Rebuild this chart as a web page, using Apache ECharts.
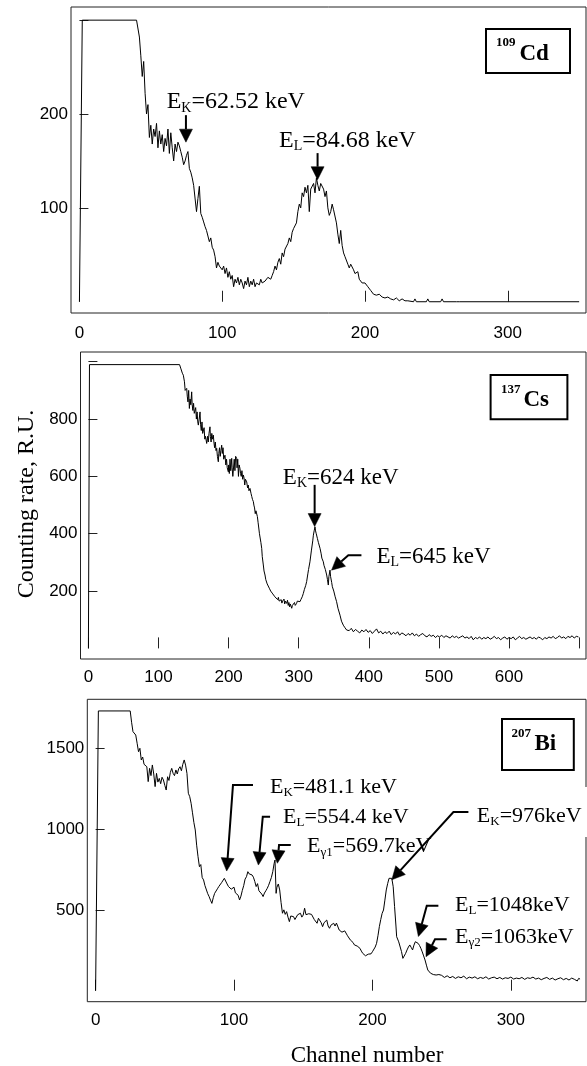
<!DOCTYPE html>
<html>
<head>
<meta charset="utf-8">
<script src="https://cdn.jsdelivr.net/npm/echarts@6/dist/echarts.min.js"></script>
<style>
  html, body { margin: 0; padding: 0; background: #fff; }
  #chart { width: 587px; height: 1066px; }
</style>
</head>
<body>
<div id="chart"></div>
<script>
// ---- spectra: [channel, counting rate] ----
const cd109 = [
  [0,0],[1,0],[2,300],[40,300],[41,298],[42,282],[43,262],[44,240],[45,256],[46,222],[47,200],[48,210],[49,175],[50,188],
  [51,168],[52,184],[53,176],[54,190],[55,164],[56,182],[57,168],[58,178],[59,160],[60,174],[61,166],[62,184],[63,158],
  [64,180],[65,164],[66,150],[67,168],[68,160],[69,170],[70,166],[71,160],[72,154],[73,146],[74,150],[75,156],[76,160],
  [77,142],[78,138],[79,132],[80,124],[81,122],[82,96],[83,110],[84,123],[85,94],[86,90],[87,85],[88,80],[89,76],[90,70],
  [91,64],[92,68],[93,58],[94,55],[95,48],[96,36],[97,42],[98,38],[99,40],[100,34],[101,38],[102,30],[103,36],[104,26],
  [105,32],[106,24],[107,28],[108,16],[109,24],[110,20],[111,26],[112,18],[113,24],[114,20],[115,14],[116,22],[117,18],
  [118,26],[119,16],[120,22],[121,18],[122,24],[123,16],[124,20],[125,22],[126,18],[127,24],[128,20],[129,18],[130,22],
  [131,21],[132,26],[133,28],[134,24],[135,28],[136,32],[137,38],[138,34],[139,42],[140,46],[141,40],[142,52],[143,48],
  [144,56],[145,54],[146,62],[147,68],[148,64],[149,74],[150,78],[151,76],[152,84],[153,96],[154,104],[155,100],[156,116],
  [157,112],[158,122],[159,116],[160,124],[161,96],[162,120],[163,118],[164,126],[165,116],[166,132],[167,124],[168,118],
  [169,126],[170,128],[171,120],[172,112],[173,118],[174,100],[175,92],[176,96],[177,104],[178,98],[179,100],[180,84],
  [181,72],[182,62],[183,76],[184,60],[185,52],[186,48],[187,46],[188,40],[189,36],[190,40],[191,38],[192,34],[193,30],
  [194,28],[195,32],[196,24],[197,26],[198,20],[199,22],[200,20],[202,16],[204,12],[206,8],[208,7],[210,8],[212,5],
  [214,4],[216,5],[218,3],[220,2],[222,4],[224,1],[226,3],[228,1],[230,1],[234,0],[235,3],[236,0],[243,0],[244,3],
  [245,0],[253,0],[254,3],[255,0],[264,0],[265,2],[266,0],[350,0]
];

const cs137 = [
  [0,0],[1,0],[1.5,990],[130,990],[132,975],[134,960],[135.4,953],[137,930],[138,900],[140.2,907],[141,880],[142,860],
  [143,900],[144,837],[145,870],[146,850],[147.3,895],[148,850],[149,830],[150,855],[151,820],[152,814],[153,840],
  [154,800],[155,825],[156,790],[156.8,779],[158,800],[159.2,825],[160,780],[161,760],[162,790],[163,750],[164,744],
  [165,770],[166,730],[167,740],[168.7,715],[170,740],[171,720],[172,750],[173.4,773],[174,740],[175,720],[176,750],
  [177,730],[178.2,744],[179,720],[180,700],[181,720],[182,690],[183,698],[184,670],[185.3,651],[186,680],[187,700],
  [188,670],[189,690],[190.1,709],[191,680],[192,700],[193,660],[194.8,674],[196,640],[197,660],[198,630],[199.6,616],
  [200,640],[201,610],[202,660],[203,620],[204.4,663],[205,630],[206,600],[206.7,605],[208,660],[209,620],[210,670],
  [211.5,663],[212,630],[213,660],[214,600],[215,640],[216.2,628],[217,610],[218,600],[219,620],[220,590],[221,605],
  [222,595],[223,570],[224,590],[225.8,581],[227,560],[228,570],[229,550],[230.5,558],[232,540],[233,530],[234,520],
  [235.3,512],[236,500],[237,490],[238,470],[239,480],[240,477],[241,460],[242,440],[243,420],[244,400],[245,395],
  [246,370],[247.2,349],[248,320],[249.5,291],[250.5,270],[251.9,256],[253,240],[254,235],[255,225],[256.7,221],[258,210],
  [259,205],[260,200],[261.4,198],[263,190],[264,185],[266,180],[268.5,175],[270,170],[271,178],[272,165],[273.3,163],
  [275,170],[276,158],[277,165],[278,160],[279,172],[280,155],[281,165],[282.8,157],[284,168],[285,150],[286,160],
  [287,145],[288,155],[290,140],[291,150],[292,145],[294,160],[295,150],[297,157],[298,165],[300,160],[301.8,163],
  [303,170],[305,180],[306.6,192],[308,205],[310,220],[311.3,233],[313,260],[314,275],[316,302],[318,340],[320,375],
  [320.9,395],[322,410],[323.2,424],[324,410],[325,400],[326.6,384],[328,370],[330.4,349],[332,330],[333,315],[335.1,302],
  [336,290],[338,275],[339.9,256],[341,240],[342.2,221],[343,250],[344.6,273],[345.5,250],[347,230],[348,215],[349.4,209],
  [350,200],[352,180],[354,163],[356,140],[358.9,116],[361,95],[363.6,81],[366,72],[368.4,64],[370,66],
  [372,62],[375,70],[378,58],[381,66],[384,60],[387,54],[390,64],[393,58],[396,66],[399,56],[402,62],[405,52],[408,60],
  [411,68],[414,54],[417,60],[420,50],[423,58],[426,52],[429,60],[432,48],[435,56],[438,50],[441,58],[444,46],[447,54],
  [450,50],[453,44],[456,52],[459,46],[462,54],[465,44],[468,50],[471,42],[474,48],[477,52],[480,44],[483,40],[486,48],
  [489,42],[492,46],[495,38],[498,44],[501,40],[504,46],[507,38],[510,44],[513,40],[516,36],[519,44],[522,38],[525,42],
  [528,36],[531,40],[534,44],[537,36],[540,40],[543,34],[546,42],[549,30],[552,38],[555,34],[558,40],[561,32],[564,38],
  [567,34],[570,40],[573,32],[576,36],[579,42],[582,34],[585,38],[588,30],[591,36],[594,40],[597,32],[600,38],[603,34],
  [606,40],[609,30],[612,36],[615,42],[618,34],[621,38],[624,32],[627,36],[630,40],[633,34],[636,38],[639,32],[642,40],
  [645,36],[648,30],[651,38],[654,34],[657,40],[660,36],[663,42],[666,34],[669,38],[672,44],[675,36],[678,40],[681,34],
  [684,42],[687,38],[690,44],[693,36],[696,42],[698,48],[699,40]
];

const bi207 = [
  [0,0],[1,0],[2,1730],[25,1730],[26,1660],[27,1602],[28,1598],[29,1581],[30,1530],[31,1478],[32,1499],[33,1427],
  [34,1445],[35,1400],[36,1392],[37,1385],[38,1293],[39,1375],[40,1330],[41,1396],[42,1340],[43,1262],[44,1344],
  [45,1290],[46,1313],[47,1280],[48,1320],[49,1303],[50,1270],[51,1241],[52,1323],[53,1300],[54,1350],[55,1375],
  [56,1344],[57,1330],[58,1365],[59,1340],[60,1372],[61,1385],[62,1360],[63,1400],[64,1427],[65,1395],[66,1344],
  [67,1221],[68,1200],[69,1159],[70,1100],[71,1040],[72,994],[73,900],[74,829],[75,767],[76,780],[77,700],[78,685],
  [79,650],[80,644],[81,600],[82,582],[83,560],[84,540],[85,575],[86,602],[87,590],[88,630],[89,644],[90,640],[91,668],
  [92,680],[93,695],[94,684],[95,660],[96,644],[97,652],[98,628],[99,623],[100,640],[101,605],[102,615],[103,590],
  [104,561],[105,585],[106,620],[107,650],[108,690],[109,705],[110,736],[111,722],[112,728],[113,716],[114,702],
  [115,676],[116,644],[117,662],[118,618],[119,606],[120,598],[121,582],[122,604],[123,618],[124,633],[125,652],
  [126,676],[127,700],[128,736],[129,788],[129.6,808],[130.4,602],[131,640],[132,660],[133,623],[134,545],[135,479],
  [136,500],[137,472],[138,489],[139,455],[140,427],[141,462],[142,470],[143,458],[144,440],[145,448],[146,470],
  [147,462],[148,479],[149,455],[150,468],[151,510],[152,470],[153,458],[154,476],[155,465],[156,472],[157,479],
  [158,440],[159,430],[160,417],[161,448],[162,437],[163,420],[164,396],[165,420],[166,408],[167,437],[168,400],
  [169,386],[170,405],[171,395],[172,417],[173,400],[174,418],[175,427],[176,375],[177,382],[178,362],[179,355],
  [180,370],[181,365],[182,340],[183,328],[184,314],[185,305],[186,298],[187,283],[188,290],[189,276],[190,270],
  [191,262],[192,245],[193,231],[194,240],[195,216],[196,210],[197,226],[198,221],[199,228],[200,241],[201,252],
  [202,270],[203,293],[204,340],[205,396],[206,440],[207,478],[208,499],[209,560],[210,623],[211,662],[212,695],
  [213,700],[214,695],[215,643],[216,520],[217,400],[217.5,334],[218,322],[219,302],[220,293],[221,242],[222,200],
  [223,212],[224,231],[225,252],[226,270],[227,283],[228,268],[229,252],[230,282],[231,303],[232,298],[233,293],
  [234,280],[235,262],[236,240],[237,215],[238,190],[239,158],[240,128],[241,122],[242,108],[243,116],[244,100],
  [245,106],[246,97],[247,92],[248,100],[249,88],[250,95],[252,82],[254,92],[256,80],[258,88],[260,76],[262,86],
  [264,80],[266,90],[268,74],[270,84],[272,78],[274,86],[276,74],[278,82],[280,76],[282,86],[284,72],[286,80],[288,84],
  [290,74],[292,82],[294,72],[296,80],[298,76],[300,84],[302,72],[304,78],[306,74],[308,82],[310,70],[312,80],[314,76],
  [316,84],[318,72],[320,78],[322,68],[324,76],[326,82],[328,70],[330,78],[332,66],[334,74],[336,80],[338,68],[340,76],
  [342,66],[344,78],[346,70],[348,60],[349,76],[350,72]
];

// ---- tick values ----
const cdTicksX = [0, 100, 200, 300];
const cdTicksY = [100, 200, 300];
const cdLabelsY = [100, 200];
const csTicksX = [0, 100, 200, 300, 400, 500, 600, 700];
const csLabelsX = [0, 100, 200, 300, 400, 500, 600];
const csTicksY = [200, 400, 600, 800, 1000];
const csLabelsY = [200, 400, 600, 800];
const biTicksX = [0, 100, 200, 300];
const biTicksY = [500, 1000, 1500];

const SANS = '"Liberation Sans", Arial, sans-serif';
const SERIF = '"Liberation Serif", "Times New Roman", serif';
const INK = '#222';

function plain(v) { return String(v); }

function xAxisFor(grid, min, max, ticks, labels, margin) {
  return {
    gridIndex: grid, type: 'value', min: min, max: max,
    axisLine: { show: false },
    splitLine: { show: false },
    axisTick: { inside: true, length: 11, customValues: ticks, lineStyle: { color: INK } },
    axisLabel: { customValues: labels, formatter: plain, margin: margin, fontSize: 17, fontFamily: SANS, color: '#000' }
  };
}
function yAxisFor(grid, min, max, ticks, labels) {
  return {
    gridIndex: grid, type: 'value', min: min, max: max,
    axisLine: { show: false },
    splitLine: { show: false },
    axisTick: { inside: true, length: 9, customValues: ticks, lineStyle: { color: INK } },
    axisLabel: { customValues: labels, formatter: plain, margin: 3, fontSize: 17, fontFamily: SANS, color: '#000' }
  };
}
function spectrum(idx, data) {
  return {
    type: 'line', xAxisIndex: idx, yAxisIndex: idx, data: data,
    showSymbol: false, symbol: 'none', silent: true,
    lineStyle: { color: '#000', width: 1 }
  };
}

const gridBox = { show: true, borderColor: INK, borderWidth: 1, backgroundColor: 'transparent' };

const option = {
  animation: false,
  backgroundColor: '#fff',
  grid: [
    Object.assign({ left: 71, top: 7, width: 515, height: 306 }, gridBox),
    Object.assign({ left: 80.5, top: 352, width: 505.5, height: 307 }, gridBox),
    Object.assign({ left: 87.3, top: 699.3, width: 498.7, height: 302.4 }, gridBox)
  ],
  xAxis: [
    xAxisFor(0, -5.9, 354.8, cdTicksX, cdTicksX, 12),
    xAxisFor(1, -11.3, 709.8, csTicksX, csLabelsX, 10),
    xAxisFor(2, -6, 354.3, biTicksX, biTicksX, 10)
  ],
  yAxis: [
    yAxisFor(0, -12, 314, cdTicksY, cdLabelsY),
    yAxisFor(1, -37, 1034, csTicksY, csLabelsY),
    yAxisFor(2, -68, 1802, biTicksY, biTicksY)
  ],
  series: [spectrum(0, cd109), spectrum(1, cs137), spectrum(2, bi207)]
};

const chart = echarts.init(document.getElementById('chart'));
chart.setOption(option);

// ---- annotations: arrow tip in data coords, tail path and label as pixel offsets from the tip ----
const notes = [
  { grid: 0, at: [74.6, 170], tail: [[0, -27]], size: 24, label: ['E', 'K', '=62.52 keV'], pos: [-19.3, -40] },
  { grid: 0, at: [166.8, 130], tail: [[0, -26.6]], size: 24, label: ['E', 'L', '=84.68 keV'], pos: [-38.6, -39.3] },
  { grid: 1, at: [322.7, 425], tail: [[0, -41.7]], size: 23, label: ['E', 'K', '=624 keV'], pos: [-31.8, -48.4] },
  { grid: 1, at: [346.8, 273], tail: [[29.9, -15], [16.8, -15]], size: 23, label: ['E', 'L', '=645 keV'], pos: [44.9, -13.3] },
  { grid: 2, at: [94.7, 740], tail: [[26.3, -86], [6.3, -86]], size: 22, label: ['E', 'K', '=481.1 keV'], pos: [43.3, -84] },
  { grid: 2, at: [117.6, 777], tail: [[11.7, -48.3], [4.4, -48.3]], size: 22, label: ['E', 'L', '=554.4 keV'], pos: [24.7, -48] },
  { grid: 2, at: [131.3, 788], tail: [[13.4, -18.3], [1.7, -18.3]], size: 22, label: ['E', 'γ1', '=569.7keV'], pos: [29.7, -16.6] },
  { grid: 2, at: [214, 686], tail: [[76.6, -67.7], [61.6, -67.7]], size: 22, label: ['E', 'K', '=976keV'], pos: [85, -64], cover: true },
  { grid: 2, at: [233.2, 335], tail: [[20, -30.7], [8.4, -30.7]], size: 22, label: ['E', 'L', '=1048keV'], pos: [36.7, -31.7] },
  { grid: 2, at: [238.7, 210], tail: [[20.7, -17.4], [9, -17.4]], size: 22, label: ['E', 'γ2', '=1063keV'], pos: [29, -20] }
];

const sources = [
  { box: [486, 29, 84, 44], mass: '109', sym: 'Cd', massAt: [496, 42.5], symAt: [519.5, 54.5] },
  { box: [490.6, 375, 76.8, 44.3], mass: '137', sym: 'Cs', massAt: [501, 389.5], symAt: [523.5, 400.5] },
  { box: [502, 719, 71.8, 51], mass: '207', sym: 'Bi', massAt: [511.5, 734], symAt: [534.5, 744.5] }
];

function richLabel(size) {
  return {
    m: { fontSize: size, fontFamily: SERIF, lineHeight: size + 2, verticalAlign: 'middle', fill: '#000', color: '#000' },
    s: { fontSize: Math.round(size * 0.6), fontFamily: SERIF, lineHeight: 10, verticalAlign: 'bottom', fill: '#000', color: '#000' }
  };
}

function arrow(tip, tail) {
  const pts = tail.map(o => [tip[0] + o[0], tip[1] + o[1]]);
  const last = pts[pts.length - 1];
  const dx = tip[0] - last[0], dy = tip[1] - last[1];
  const len = Math.hypot(dx, dy);
  const ux = dx / len, uy = dy / len;
  const head = 13, half = 6.5;
  const base = [tip[0] - ux * head, tip[1] - uy * head];
  return [
    { type: 'polyline', z: 110, silent: true, shape: { points: pts.concat([base]) },
      style: { stroke: '#000', lineWidth: 2, fill: null } },
    { type: 'polygon', z: 110, silent: true,
      shape: { points: [tip, [base[0] - uy * half, base[1] + ux * half], [base[0] + uy * half, base[1] - ux * half]] },
      style: { fill: '#000', stroke: '#000', lineWidth: 0.5 } }
  ];
}

const graphic = [];
notes.forEach(n => {
  const tip = chart.convertToPixel({ gridIndex: n.grid }, n.at);
  if (n.cover) {
    graphic.push({ type: 'rect', z: 105, silent: true,
      shape: { x: tip[0] + n.pos[0] - 6, y: 787, width: 587 - (tip[0] + n.pos[0] - 6), height: 50 },
      style: { fill: '#fff' } });
  }
  graphic.push({
    type: 'text', z: 108, silent: true,
    x: tip[0] + n.pos[0], y: tip[1] + n.pos[1],
    style: {
      text: '{m|' + n.label[0] + '}{s|' + n.label[1] + '}{m|' + n.label[2] + '}',
      rich: richLabel(n.size),
      align: 'left', verticalAlign: 'middle',
      textAlign: 'left', textVerticalAlign: 'middle'
    }
  });
  arrow(tip, n.tail).forEach(e => graphic.push(e));
});

sources.forEach(s => {
  graphic.push({ type: 'rect', z: 105, silent: true,
    shape: { x: s.box[0], y: s.box[1], width: s.box[2], height: s.box[3] },
    style: { fill: '#fff', stroke: '#000', lineWidth: 2 } });
  graphic.push({ type: 'text', z: 108, silent: true, x: s.massAt[0], y: s.massAt[1],
    style: { text: s.mass, font: 'bold 13px ' + SERIF, fill: '#000',
      align: 'left', verticalAlign: 'middle', textAlign: 'left', textVerticalAlign: 'middle' } });
  graphic.push({ type: 'text', z: 108, silent: true, x: s.symAt[0], y: s.symAt[1],
    style: { text: s.sym, font: 'bold 23px ' + SERIF, fill: '#000',
      align: 'left', verticalAlign: 'middle', textAlign: 'left', textVerticalAlign: 'middle' } });
});

// axis titles
graphic.push({ type: 'text', z: 108, silent: true, x: 27, y: 504, rotation: Math.PI / 2,
  style: { text: 'Counting rate, R.U.', font: '24px ' + SERIF, fill: '#000',
    align: 'center', verticalAlign: 'middle', textAlign: 'center', textVerticalAlign: 'middle' } });
graphic.push({ type: 'text', z: 108, silent: true, x: 367, y: 1056,
  style: { text: 'Channel number', font: '23px ' + SERIF, fill: '#000',
    align: 'center', verticalAlign: 'middle', textAlign: 'center', textVerticalAlign: 'middle' } });

chart.setOption({ graphic: graphic });
</script>
</body>
</html>
